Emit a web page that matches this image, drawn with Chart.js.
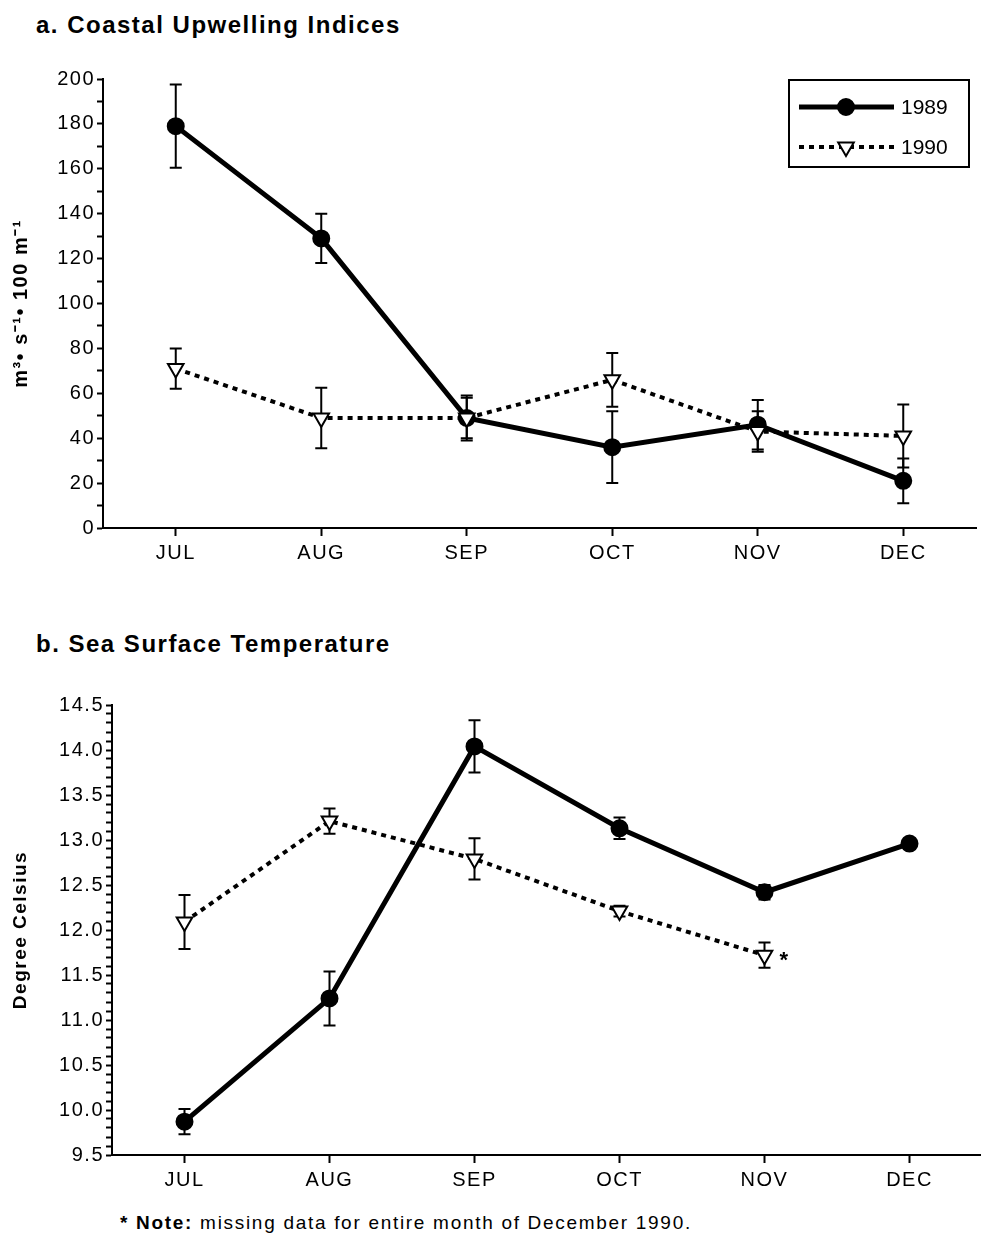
<!DOCTYPE html>
<html>
<head>
<meta charset="utf-8">
<script src="https://cdn.jsdelivr.net/npm/chart.js@4.4.0/dist/chart.umd.min.js"></script>
<style>
body { margin: 0; background: #fff; width: 981px; height: 1245px; position: relative; overflow: hidden; font-family: "Liberation Sans", Arial, sans-serif; color: #000; }
.title { position: absolute; left: 36px; font-weight: bold; font-size: 24px; letter-spacing: 1.5px; }
#upwelling { position: absolute; left: 0; top: 0; }
#sst { position: absolute; left: 0; top: 620px; }
.note { position: absolute; left: 120px; top: 1212px; font-size: 19px; letter-spacing: 1.7px; }
</style>
</head>
<body>
<div class="title" style="top:11px">a. Coastal Upwelling Indices</div>
<div class="title" style="top:630px">b. Sea Surface Temperature</div>
<canvas id="upwelling" width="987" height="573"></canvas>
<canvas id="sst" width="993" height="580"></canvas>
<div class="note"><b>* Note:</b> missing data for entire month of December 1990.</div>

<script>
// months on the x axis
var months = ['JUL', 'AUG', 'SEP', 'OCT', 'NOV', 'DEC'];

// a. coastal upwelling index, mean and +/- error
var upw1989 = [179, 129, 49, 36, 46, 21];
var upw1989Err = [18.5, 11, 9, 16, 11, 10];
var upw1990 = [71, 49, 49, 66, 43, 41];
var upw1990Err = [9, 13.5, 10, 12, 9, 14];

// b. sea surface temperature (no Dec 1990 data)
var sst1989 = [9.87, 11.24, 14.04, 13.13, 12.42, 12.96];
var sst1989Err = [0.14, 0.3, 0.29, 0.12, 0.08, 0];
var sst1990 = [12.09, 13.21, 12.79, 12.21, 11.72, null];
var sst1990Err = [0.3, 0.14, 0.23, 0.06, 0.14, null];

var tickFont = { family: '"Liberation Sans", Arial, sans-serif', size: 20 };

// old scanned figure has wide-spaced lettering
var spacing = {
    id: 'spacing',
    beforeUpdate: function(chart) { chart.ctx.letterSpacing = '1.5px'; },
    beforeDraw: function(chart) { chart.ctx.letterSpacing = '1.5px'; }
};

// vertical error bars with caps, read from dataset.errors
var errorBars = {
    id: 'errorBars',
    beforeDatasetsDraw: function(chart) {
        var ctx = chart.ctx;
        var yScale = chart.scales.y;
        ctx.save();
        ctx.strokeStyle = '#000';
        ctx.lineWidth = 2;
        chart.data.datasets.forEach(function(ds, i) {
            var meta = chart.getDatasetMeta(i);
            meta.data.forEach(function(pt, j) {
                var v = ds.data[j], e = ds.errors[j];
                if (v === null || !e) return;
                var top = yScale.getPixelForValue(v + e);
                var bot = yScale.getPixelForValue(v - e);
                ctx.beginPath();
                ctx.moveTo(pt.x, top); ctx.lineTo(pt.x, bot);
                ctx.moveTo(pt.x - 6, top); ctx.lineTo(pt.x + 6, top);
                ctx.moveTo(pt.x - 6, bot); ctx.lineTo(pt.x + 6, bot);
                ctx.stroke();
            });
        });
        ctx.restore();
    }
};

// boxed legend like the original: line - marker - line, year
var boxLegend = {
    id: 'boxLegend',
    afterDraw: function(chart) {
        var ctx = chart.ctx;
        var a = chart.chartArea;
        var x0 = a.right - 187, y0 = a.top + 1, w = 180, h = 87;
        ctx.save();
        ctx.letterSpacing = '0px';
        ctx.strokeStyle = '#000';
        ctx.fillStyle = '#000';
        ctx.lineWidth = 2;
        ctx.strokeRect(x0, y0, w, h);
        chart.data.datasets.forEach(function(ds, i) {
            var y = y0 + 27 + i * 40;
            ctx.save();
            ctx.lineWidth = ds.borderWidth;
            ctx.setLineDash(ds.borderDash || []);
            ctx.beginPath();
            ctx.moveTo(x0 + 10, y); ctx.lineTo(x0 + 105, y);
            ctx.stroke();
            ctx.restore();
            ctx.fillStyle = ds.pointBackgroundColor;
            ctx.strokeStyle = '#000';
            Chart.helpers.drawPoint(ctx, {
                pointStyle: ds.pointStyle, rotation: ds.pointRotation || 0,
                radius: ds.pointRadius, borderWidth: ds.pointBorderWidth
            }, x0 + 57, y);
            ctx.fillStyle = '#000';
            ctx.font = '21px "Liberation Sans", Arial, sans-serif';
            ctx.textBaseline = 'middle';
            ctx.fillText(ds.label, x0 + 112, y + 1);
        });
        ctx.restore();
    }
};

// asterisk after the last 1990 point
var missingMark = {
    id: 'missingMark',
    afterDatasetsDraw: function(chart) {
        var pt = chart.getDatasetMeta(1).data[4];
        var ctx = chart.ctx;
        ctx.save();
        ctx.fillStyle = '#000';
        ctx.font = 'bold 22px "Liberation Sans", Arial, sans-serif';
        ctx.textBaseline = 'middle';
        ctx.fillText('*', pt.x + 15, pt.y + 6);
        ctx.restore();
    }
};

function series(label, data, errors, dashed) {
    return {
        label: label,
        data: data,
        errors: errors,
        borderColor: '#000',
        borderWidth: dashed ? 4 : 5,
        borderDash: dashed ? [5, 5] : [],
        pointStyle: dashed ? 'triangle' : 'circle',
        pointRotation: dashed ? 180 : 0,
        pointRadius: dashed ? 9 : 8,
        pointBackgroundColor: dashed ? '#fff' : '#000',
        pointBorderColor: '#000',
        pointBorderWidth: 2,
        tension: 0,
        spanGaps: false,
        order: dashed ? 0 : 1
    };
}

function makeChart(id, datasets, yOpts, axisWidth, yTitle, titleSize, titlePad, padTop, extra) {
    var ctx = document.getElementById(id).getContext('2d');
    return new Chart(ctx, {
        type: 'line',
        data: { labels: months, datasets: datasets },
        options: {
            responsive: false,
            animation: false,
            layout: { padding: { top: padTop, right: 0, left: 0, bottom: 0 } },
            plugins: {
                legend: { display: false },
                tooltip: { enabled: false }
            },
            scales: {
                x: {
                    offset: true,
                    afterFit: function(scale) {
                        scale.height = 45;
                        scale.paddingLeft = 0;
                        scale.paddingRight = 0;
                    },
                    grid: { drawOnChartArea: false, tickLength: 8, tickWidth: 2, tickColor: '#000' },
                    border: { display: true, color: '#000', width: 2 },
                    ticks: { color: '#000', font: tickFont, padding: 5, autoSkip: false, maxRotation: 0 }
                },
                y: {
                    min: yOpts.min,
                    max: yOpts.max,
                    afterFit: function(scale) { scale.width = axisWidth; },
                    grid: { drawOnChartArea: false, tickLength: 6, tickWidth: 2, tickColor: '#000' },
                    border: { display: true, color: '#000', width: 2 },
                    title: {
                        display: true, text: yTitle, color: '#000',
                        font: { family: '"Liberation Sans", Arial, sans-serif', size: titleSize, weight: 'bold' },
                        padding: { top: titlePad, bottom: 0 }
                    },
                    ticks: {
                        stepSize: yOpts.step,
                        autoSkip: false,
                        maxTicksLimit: 100,
                        color: '#000',
                        font: tickFont,
                        padding: 2,
                        callback: yOpts.label
                    }
                }
            }
        },
        plugins: [spacing, errorBars].concat(extra)
    });
}

makeChart('upwelling', [
    series('1989', upw1989, upw1989Err, false),
    series('1990', upw1990, upw1990Err, true)
], {
    min: 0, max: 200, step: 10,
    label: function(v) { return v % 20 === 0 ? v : ''; }
}, 103, 'm\u00B3\u2022 s\u207B\u00B9\u2022 100 m\u207B\u00B9', 20, 9, 79, [boxLegend]);

makeChart('sst', [
    series('1989', sst1989, sst1989Err, false),
    series('1990', sst1990, sst1990Err, true)
], {
    min: 9.5, max: 14.5, step: 0.1,
    label: function(v) {
        var r = Math.round(v * 10);
        return r % 5 === 0 ? (r / 10).toFixed(1) : '';
    }
}, 112, 'Degree Celsius', 19, 9, 85, [missingMark]);
</script>
</body>
</html>
